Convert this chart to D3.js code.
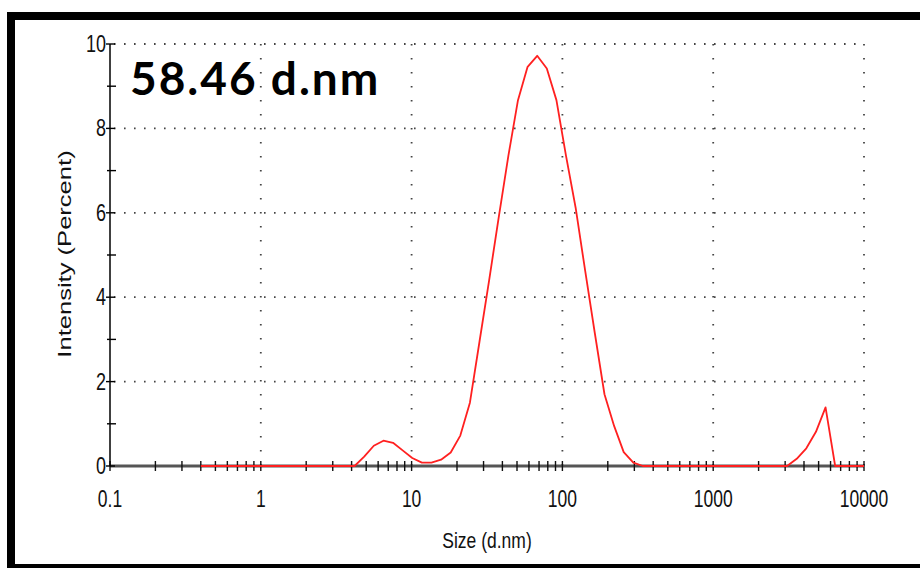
<!DOCTYPE html>
<html>
<head>
<meta charset="utf-8">
<script src="https://cdn.jsdelivr.net/npm/d3@7"></script>
<style>
  body { margin: 0; background: #fff; }
  svg { display: block; }
</style>
</head>
<body>
<svg id="chart" width="920" height="568"></svg>
<script>
// size classes (d.nm) and intensity (%)
var sizes = [0.4, 0.4632, 0.5365, 0.6213, 0.7195, 0.8332, 0.9649, 1.117, 1.294, 1.499,
  1.736, 2.01, 2.328, 2.696, 3.122, 3.615, 4.187, 4.849, 5.615, 6.503,
  7.531, 8.721, 10.1, 11.7, 13.54, 15.69, 18.17, 21.04, 24.36, 28.21,
  32.67, 37.84, 43.82, 50.75, 58.77, 68.06, 78.82, 91.28, 105.7, 122.4,
  141.8, 164.2, 190.1, 220.2, 255, 295.3, 342, 396.1, 458.7, 531.2,
  615.1, 712.4, 825, 955.4, 1106, 1281, 1484, 1718, 1990, 2305,
  2669, 3091, 3580, 4145, 4801, 5560, 6439, 7456, 8635, 10000];
var intensity = [0, 0, 0, 0, 0, 0, 0, 0, 0, 0,
  0, 0, 0, 0, 0, 0, 0, 0.22, 0.48, 0.6,
  0.55, 0.37, 0.19, 0.08, 0.08, 0.15, 0.32, 0.72, 1.5, 2.95,
  4.4, 5.9, 7.35, 8.67, 9.46, 9.72, 9.42, 8.67, 7.35, 6.12,
  4.61, 3.14, 1.7, 0.95, 0.33, 0.08, 0, 0, 0, 0,
  0, 0, 0, 0, 0, 0, 0, 0, 0, 0,
  0, 0, 0.17, 0.42, 0.81, 1.39, 0, 0, 0, 0];

var xTicks = [0.1, 1, 10, 100, 1000, 10000];
var xTickLabels = ["0.1", "1", "10", "100", "1000", "10000"];
var yTicks = [0, 2, 4, 6, 8, 10];
var yMinor = [1, 3, 5, 7, 9];
var title = "58.46 d.nm";

var svg = d3.select("#chart");

var x = d3.scaleLog().domain([0.1, 10000]).range([110, 864]);
var y = d3.scaleLinear().domain([0, 10]).range([466, 44]);

// frame
svg.append("rect")
    .attr("x", 11).attr("y", 16)
    .attr("width", 930).attr("height", 552)
    .attr("fill", "none")
    .attr("stroke", "#000")
    .attr("stroke-width", 8);

var g = svg.append("g");

// dotted grid
g.selectAll(".hgrid").data(yTicks.slice(1)).enter().append("line")
    .attr("x1", x(0.1) + 4).attr("x2", x(10000))
    .attr("y1", function(d) { return y(d); })
    .attr("y2", function(d) { return y(d); })
    .attr("stroke", "#444")
    .attr("stroke-width", 1.8)
    .attr("stroke-dasharray", "1.6,8.4");

g.selectAll(".vgrid").data(xTicks.slice(1)).enter().append("line")
    .attr("x1", function(d) { return x(d); })
    .attr("x2", function(d) { return x(d); })
    .attr("y1", y(10)).attr("y2", y(0))
    .attr("stroke", "#444")
    .attr("stroke-width", 1.8)
    .attr("stroke-dasharray", "1.6,12.4");

// x axis line and ticks
g.append("line")
    .attr("x1", x(0.1)).attr("x2", x(10000))
    .attr("y1", y(0)).attr("y2", y(0))
    .attr("stroke", "#555")
    .attr("stroke-width", 3);

var xMinor = [];
xTicks.slice(0, -1).forEach(function(d) {
  for (var k = 2; k <= 9; k++) xMinor.push(d * k);
});
g.selectAll(".xminor").data(xMinor.concat(xTicks)).enter().append("line")
    .attr("x1", function(d) { return x(d); })
    .attr("x2", function(d) { return x(d); })
    .attr("y1", y(0) - 5).attr("y2", y(0) + 5)
    .attr("stroke", "#111")
    .attr("stroke-width", 1.4);

// y axis line and ticks
g.append("line")
    .attr("x1", x(0.1)).attr("x2", x(0.1))
    .attr("y1", y(10)).attr("y2", y(0))
    .attr("stroke", "#000")
    .attr("stroke-width", 1.5);

g.selectAll(".ymajor").data(yTicks).enter().append("line")
    .attr("x1", x(0.1) - 4).attr("x2", x(0.1) + 5)
    .attr("y1", function(d) { return y(d); })
    .attr("y2", function(d) { return y(d); })
    .attr("stroke", "#000").attr("stroke-width", 1.4);

g.selectAll(".yminor").data(yMinor).enter().append("line")
    .attr("x1", x(0.1) - 3).attr("x2", x(0.1) + 6)
    .attr("y1", function(d) { return y(d); })
    .attr("y2", function(d) { return y(d); })
    .attr("stroke", "#000").attr("stroke-width", 1.4);

// tick labels (the original is stretched vertically)
g.selectAll(".ylab").data(yTicks).enter().append("text")
    .attr("transform", function(d) { return "translate(106," + (y(d) + 8) + ") scale(1,1.35)"; })
    .attr("text-anchor", "end")
    .attr("font-family", "Liberation Sans, Arial, sans-serif")
    .attr("font-size", 18)
    .attr("fill", "#111")
    .text(function(d) { return d; });

g.selectAll(".xlab").data(xTicks).enter().append("text")
    .attr("transform", function(d) { return "translate(" + x(d) + ",507) scale(1,1.4)"; })
    .attr("text-anchor", "middle")
    .attr("font-family", "Liberation Sans, Arial, sans-serif")
    .attr("font-size", 17.5)
    .attr("fill", "#111")
    .text(function(d, i) { return xTickLabels[i]; });

// axis titles
svg.append("text")
    .attr("transform", "translate(487,548) scale(1,1.3)")
    .attr("text-anchor", "middle")
    .attr("font-family", "Liberation Sans, Arial, sans-serif")
    .attr("font-size", 17.5)
    .attr("fill", "#111")
    .text("Size (d.nm)");

svg.append("text")
    .attr("transform", "translate(71,254) rotate(-90) scale(1.42,1)")
    .attr("text-anchor", "middle")
    .attr("font-family", "Liberation Sans, Arial, sans-serif")
    .attr("font-size", 18)
    .attr("fill", "#111")
    .text("Intensity (Percent)");

// curve
var line = d3.line()
    .x(function(d, i) { return x(sizes[i]); })
    .y(function(d) { return y(d); });

g.append("path")
    .datum(intensity)
    .attr("d", line)
    .attr("fill", "none")
    .attr("stroke", "#ff2020")
    .attr("stroke-width", 1.8)
    .attr("stroke-linejoin", "round");

// overlay title
svg.append("text")
    .attr("x", 130).attr("y", 95)
    .attr("font-family", "Lato, sans-serif")
    .attr("font-weight", "bold")
    .attr("font-size", 46)
    .attr("letter-spacing", 2)
    .attr("fill", "#000")
    .text(title);
</script>
</body>
</html>
